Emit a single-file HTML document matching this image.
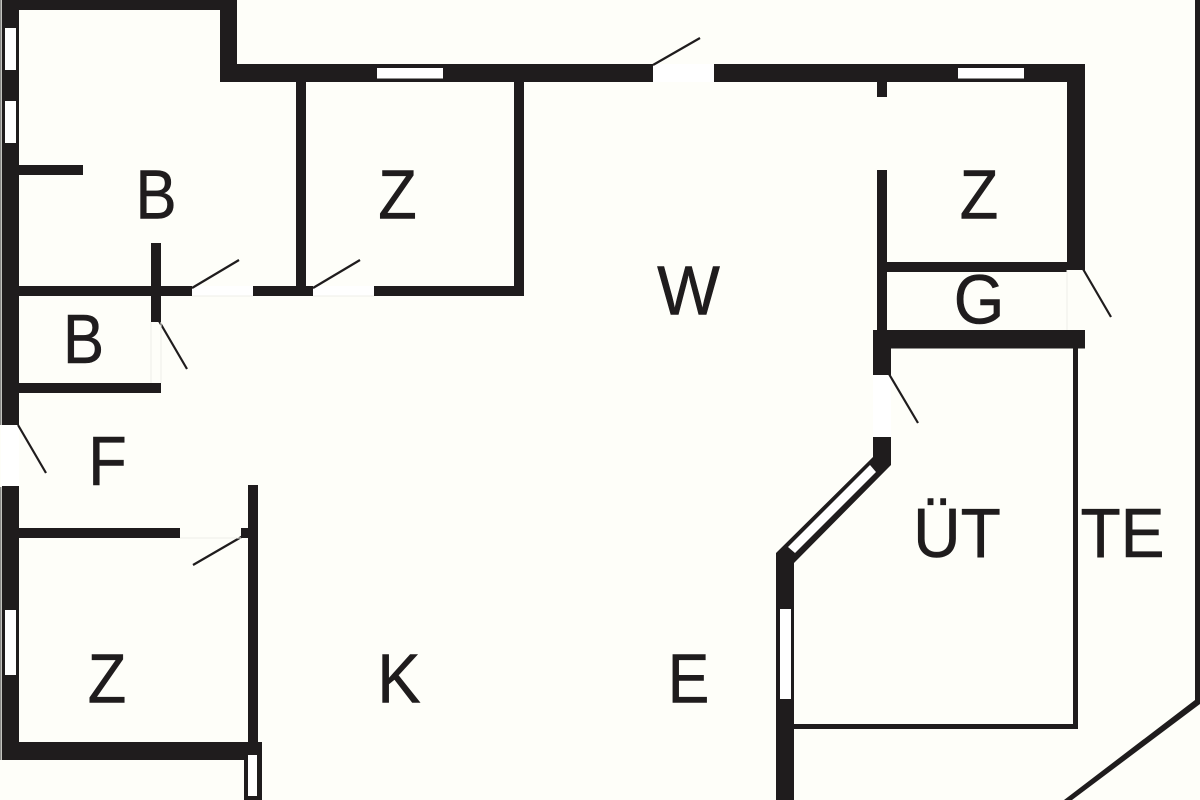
<!DOCTYPE html>
<html><head><meta charset="utf-8"><style>
html,body{margin:0;padding:0;background:#fefef9}
svg{display:block}
text{font-family:"Liberation Sans",sans-serif;font-size:70px;fill:#1f1c1d;stroke:#1f1c1d;stroke-width:.6;text-anchor:middle}
</style></head><body>
<svg width="1200" height="800" viewBox="0 0 1200 800" xmlns="http://www.w3.org/2000/svg">
<rect width="1200" height="800" fill="#fefef9"/>
<rect x="0" y="0" width="1.5" height="425" fill="#8a8a88"/>
<rect x="0" y="487" width="1.5" height="273" fill="#8a8a88"/>
<g fill="#1f1c1d">
<rect x="2" y="0" width="235" height="10"/>
<rect x="2" y="0" width="17" height="425"/>
<rect x="2" y="486" width="17" height="274"/>
<rect x="2" y="742" width="260" height="18"/>
<rect x="244" y="742" width="18" height="58"/>
<rect x="220" y="0" width="17" height="82"/>
<rect x="220" y="64" width="433" height="18"/>
<rect x="714" y="64" width="371" height="18"/>
<rect x="1067" y="64" width="18" height="206"/>
<rect x="296" y="82" width="10" height="214"/>
<rect x="514" y="82" width="10" height="214"/>
<rect x="19" y="165" width="64" height="10"/>
<rect x="19" y="286" width="173" height="10"/>
<rect x="253" y="286" width="60" height="10"/>
<rect x="374" y="286" width="150" height="10"/>
<rect x="151" y="243" width="10" height="79"/>
<rect x="19" y="383" width="142" height="10"/>
<rect x="19" y="528" width="161" height="10"/>
<rect x="241" y="528" width="10" height="10"/>
<rect x="248" y="485" width="10" height="260"/>
<rect x="877" y="82" width="10" height="15"/>
<rect x="877" y="170" width="10" height="165"/>
<rect x="877" y="262" width="190" height="10"/>
<rect x="873" y="330" width="212" height="18.500"/>
<rect x="873" y="330" width="18" height="45"/>
<rect x="1073" y="345" width="5" height="384"/>
<rect x="790" y="724" width="288" height="5"/>
<polygon points="873,437 891,437 891,465 794,563 794,800 776,800 776,553 873,457"/>
<polygon points="1195,0 1200,0 1200,704 1072,800 1064,800 1195,700"/>
</g>
<g fill="#fff">
<rect x="5" y="28" width="11" height="42"/>
<rect x="5" y="101" width="11" height="42"/>
<rect x="5" y="610" width="11" height="65"/>
<rect x="248" y="755" width="9" height="41"/>
<rect x="377" y="68" width="66" height="10.500"/>
<rect x="958" y="68" width="66" height="10.500"/>
<rect x="780" y="609" width="11" height="90"/>
<polygon points="870,465 876,472 795,553 788,547"/>
<rect x="653" y="64" width="61" height="18"/>
<rect x="192" y="286" width="61" height="10"/>
<rect x="313" y="286" width="61" height="10"/>
<rect x="873" y="375" width="18" height="62"/>
<rect x="1" y="425" width="18" height="61"/>
</g>
<g stroke="#1f1c1d" stroke-width="2.200" fill="none">
<line x1="192" y1="288" x2="239" y2="260"/>
<line x1="313" y1="288" x2="360" y2="260"/>
<line x1="159" y1="321" x2="187" y2="369"/>
<line x1="18" y1="425" x2="46" y2="473"/>
<line x1="243" y1="536" x2="193" y2="565"/>
<line x1="653" y1="65" x2="700" y2="38"/>
<line x1="1083" y1="269" x2="1111" y2="317"/>
<line x1="889" y1="374" x2="918" y2="423"/>
</g>
<g stroke="#efefe9" stroke-width="1" fill="none">
<line x1="192" y1="296" x2="253" y2="296"/>
<line x1="313" y1="296" x2="374" y2="296"/>
<line x1="180" y1="538" x2="241" y2="538"/>
<line x1="151" y1="322" x2="151" y2="383"/>
<line x1="161" y1="322" x2="161" y2="383"/>
<line x1="1067" y1="270" x2="1067" y2="330"/>
</g>
<text transform="translate(156,218.500) scale(.88,1)">B</text>
<text transform="translate(397.500,218.500) scale(.9,1)">Z</text>
<text transform="translate(979,218.500) scale(.9,1)">Z</text>
<text transform="translate(688.500,314.500) scale(.95,1)">W</text>
<text transform="translate(979,323.500) scale(.93,1)">G</text>
<text transform="translate(83.500,363) scale(.88,1)">B</text>
<text transform="translate(107.500,485) scale(.9,1)">F</text>
<text transform="translate(957,557) scale(.94,1)">ÜT</text>
<text transform="translate(1122.500,557) scale(.94,1)">TE</text>
<text transform="translate(107,702.500) scale(.9,1)">Z</text>
<text transform="translate(399,702.500) scale(.93,1)">K</text>
<text transform="translate(688.500,702.500) scale(.89,1)">E</text>
</svg>
</body></html>
